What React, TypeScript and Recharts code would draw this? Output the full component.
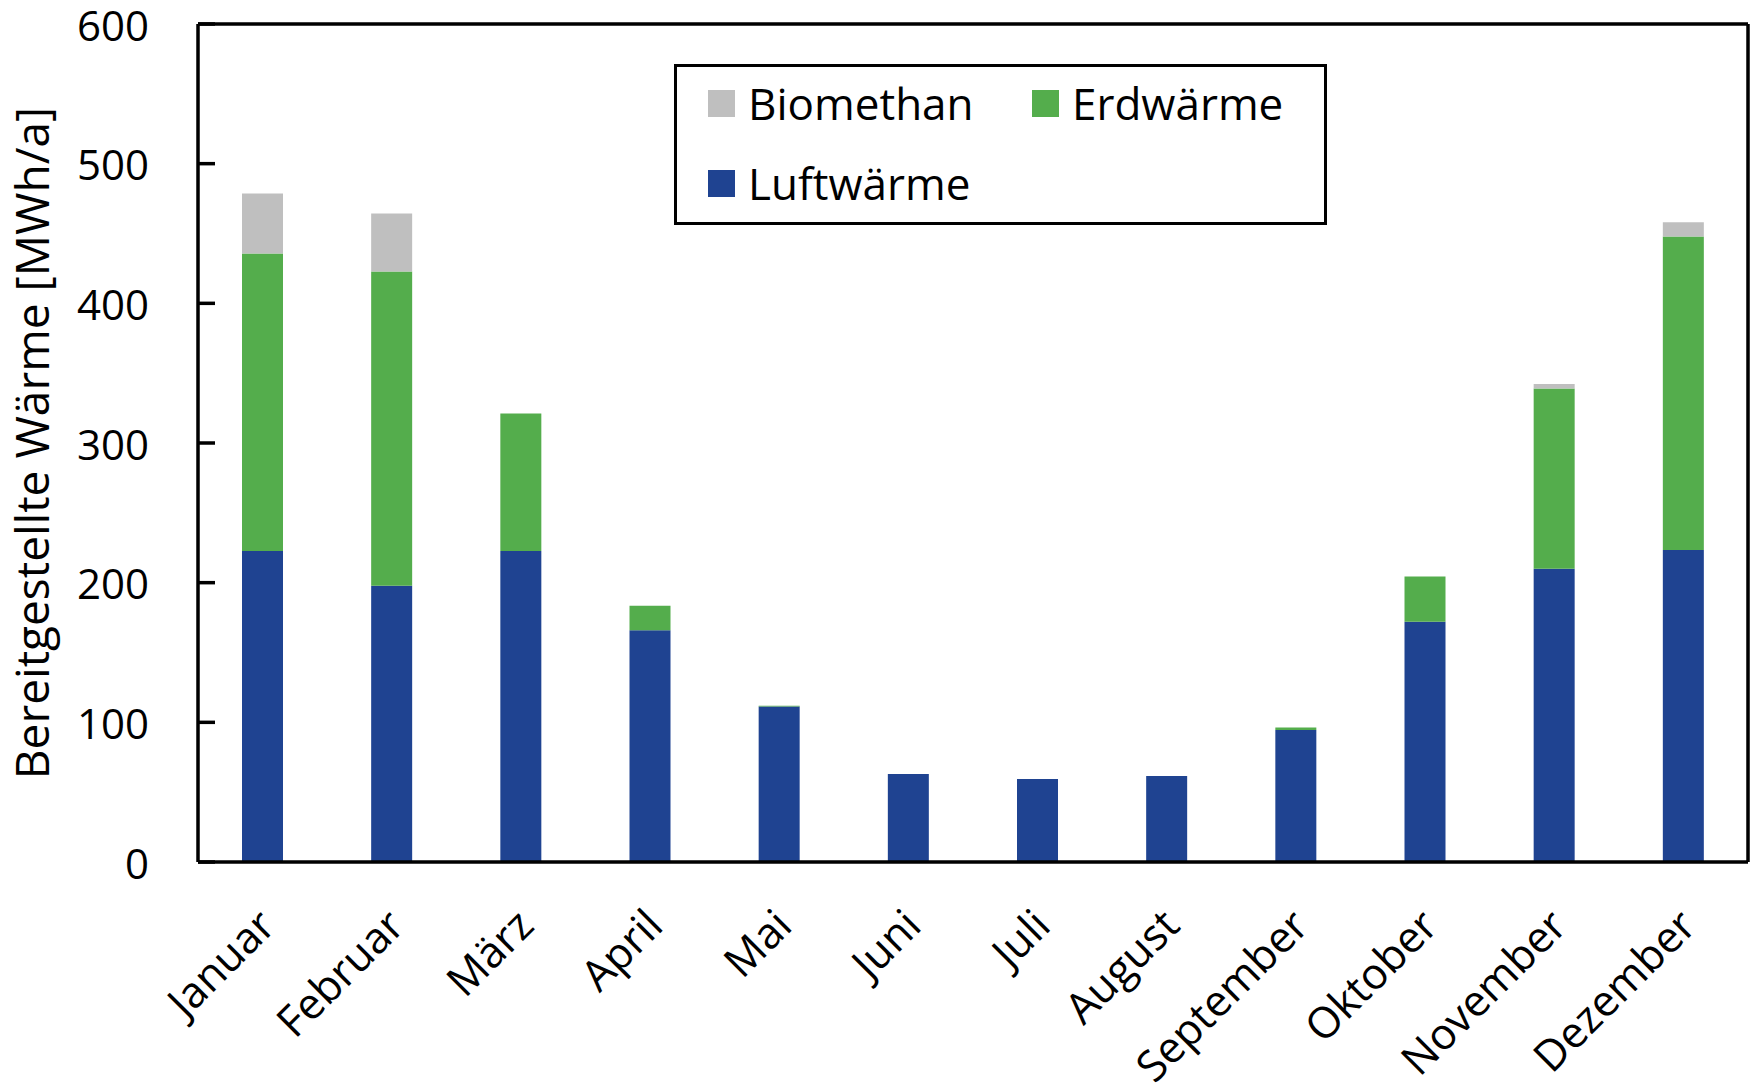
import React from 'react';
import { BarChart, Bar, XAxis, YAxis } from 'recharts';

// Monatswerte in MWh/a
const months = [
  'Januar', 'Februar', 'März', 'April', 'Mai', 'Juni',
  'Juli', 'August', 'September', 'Oktober', 'November', 'Dezember',
];
const luftwaerme = [222.6, 197.8, 222.6, 166, 111.3, 63, 59.5, 61.5, 94.5, 172, 210, 223.3];
const erdwaerme = [213, 225, 98.6, 17.5, 0.6, 0, 0, 0, 1.8, 32.5, 129, 224.6];
const biomethan = [43, 41.5, 0, 0, 0, 0, 0, 0, 0, 0, 3.3, 10.1];
const yTicks = [0, 100, 200, 300, 400, 500, 600];

const COLORS = {
  luft: '#1F4391',
  erd: '#54AD4C',
  bio: '#BFBFBF',
};

const FONT = '"Open Sans", sans-serif';

const data = months.map((m, i) => ({
  month: m,
  luft: luftwaerme[i],
  erd: erdwaerme[i],
  bio: biomethan[i],
}));

const YTick = (props: any) => {
  const { x, y, payload } = props;
  return (
    <g>
      <line x1={x} x2={x + 17} y1={y} y2={y} stroke="#000" strokeWidth={3.5} />
      <text
        x={x - 49}
        y={y}
        textAnchor="end"
        dominantBaseline="central"
        fontFamily={FONT}
        fontSize={42}
        fill="#000"
      >
        {payload.value}
      </text>
    </g>
  );
};

const XTick = (props: any) => {
  const { x, y, payload } = props;
  const tx = x + 15;
  const ty = y + 66;
  return (
    <text
      x={tx}
      y={ty}
      textAnchor="end"
      transform={`rotate(-45, ${tx}, ${ty})`}
      fontFamily={FONT}
      fontSize={43}
      fill="#000"
    >
      {payload.value}
    </text>
  );
};

const legendItems = [
  { label: 'Biomethan', color: COLORS.bio, left: 34, top: 26 },
  { label: 'Erdwärme', color: COLORS.erd, left: 358, top: 26 },
  { label: 'Luftwärme', color: COLORS.luft, left: 34, top: 106 },
];

const LegendBox = () => (
  <div
    style={{
      position: 'absolute',
      left: 674,
      top: 64,
      width: 653,
      height: 161,
      boxSizing: 'border-box',
      border: '3px solid #000',
      background: '#fff',
      fontFamily: FONT,
    }}
  >
    {legendItems.map((it) => (
      <div
        key={it.label}
        style={{
          position: 'absolute',
          left: it.left - 3,
          top: it.top - 3,
          height: 27,
          display: 'flex',
          alignItems: 'center',
        }}
      >
        <div style={{ width: 27, height: 27, background: it.color }} />
        <span style={{ marginLeft: 13, fontSize: 44, lineHeight: '27px', whiteSpace: 'nowrap' }}>
          {it.label}
        </span>
      </div>
    ))}
  </div>
);

export default function App() {
  return (
    <div style={{ position: 'absolute', left: 0, top: 0, width: 1754, height: 1088, background: '#fff' }}>
      <BarChart
        width={1754}
        height={1088}
        data={data}
        margin={{ top: 22, right: 5, bottom: 0, left: 0 }}
        barSize={41}
      >
        <XAxis
          dataKey="month"
          interval={0}
          height={226}
          tickSize={0}
          tickMargin={0}
          tick={<XTick />}
          axisLine={{ stroke: '#000', strokeWidth: 3.5 }}
        />
        <XAxis
          xAxisId="top"
          dataKey="month"
          orientation="top"
          height={2}
          tick={false}
          tickLine={false}
          axisLine={{ stroke: '#000', strokeWidth: 3.5 }}
        />
        <YAxis
          domain={[0, 600]}
          ticks={yTicks}
          interval={0}
          width={198}
          tickSize={0}
          tickMargin={0}
          tick={<YTick />}
          axisLine={{ stroke: '#000', strokeWidth: 3.5 }}
          label={{
            value: 'Bereitgestellte Wärme [MWh/a]',
            angle: -90,
            position: 'insideLeft',
            offset: 0,
            dx: 33,
            style: { fontFamily: FONT, fontSize: 46, fill: '#000', textAnchor: 'middle' },
          }}
        />
        <YAxis
          yAxisId="right"
          orientation="right"
          domain={[0, 600]}
          width={1}
          tick={false}
          tickLine={false}
          axisLine={{ stroke: '#000', strokeWidth: 3.5 }}
        />
        <Bar dataKey="luft" name="Luftwärme" stackId="a" fill={COLORS.luft} isAnimationActive={false} />
        <Bar dataKey="erd" name="Erdwärme" stackId="a" fill={COLORS.erd} isAnimationActive={false} />
        <Bar dataKey="bio" name="Biomethan" stackId="a" fill={COLORS.bio} isAnimationActive={false} />
      </BarChart>
      <LegendBox />
    </div>
  );
}
